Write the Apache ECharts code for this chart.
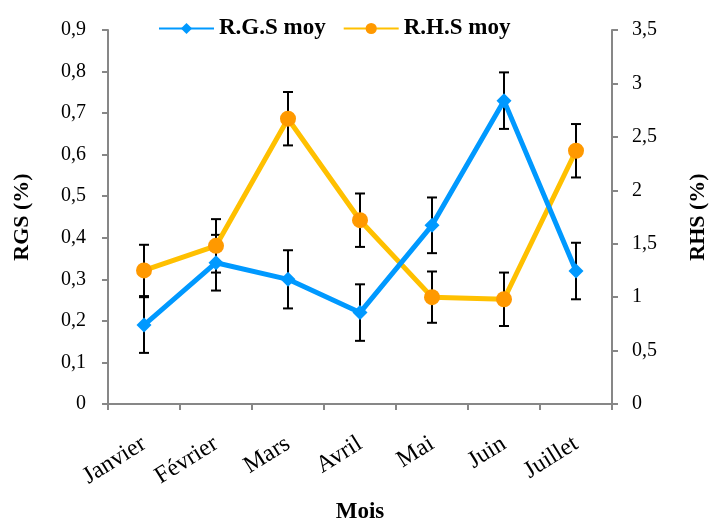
<!DOCTYPE html>
<html>
<head>
<meta charset="utf-8">
<script src="https://cdn.jsdelivr.net/npm/echarts@6/dist/echarts.min.js"></script>
<style>
  html, body { margin: 0; padding: 0; background: #fff; }
  #chart { width: 710px; height: 521px; }
</style>
</head>
<body>
<div id="chart"></div>
<script>
// data
const months = ['Janvier', 'Février', 'Mars', 'Avril', 'Mai', 'Juin', 'Juillet']
const rgsMoy = [0.19, 0.34, 0.30, 0.22, 0.43, 0.73, 0.32]
const rgsErr = [0.067, 0.067, 0.07, 0.068, 0.067, 0.068, 0.068]
const rhsMoy = [1.25, 1.48, 2.67, 1.72, 1.00, 0.98, 2.37]
const rhsErr = [0.24, 0.25, 0.25, 0.25, 0.24, 0.25, 0.25]
const leftTicks = [0, 0.9, 0.1]
const rightTicks = [0, 3.5, 0.5]

const font = 'Liberation Serif'
const axisGrey = '#878787'

function fmt(v) {
  return String(Math.round(v * 10) / 10).replace('.', ',')
}

function errorBars(values, errs, axisIndex) {
  return {
    type: 'custom',
    yAxisIndex: axisIndex,
    z: 3,
    silent: true,
    encode: { x: 0, y: [1, 2] },
    data: values.map((v, i) => [i, v - errs[i], v + errs[i]]),
    renderItem(params, api) {
      const lo = api.coord([api.value(0), api.value(1)])
      const hi = api.coord([api.value(0), api.value(2)])
      const half = 5
      const style = { stroke: '#000', lineWidth: 2 }
      return {
        type: 'group',
        children: [
          { type: 'line', shape: { x1: lo[0], y1: lo[1], x2: hi[0], y2: hi[1] }, style },
          { type: 'line', shape: { x1: lo[0] - half, y1: lo[1], x2: lo[0] + half, y2: lo[1] }, style },
          { type: 'line', shape: { x1: hi[0] - half, y1: hi[1], x2: hi[0] + half, y2: hi[1] }, style }
        ]
      }
    }
  }
}

const chart = echarts.init(document.getElementById('chart'))

chart.setOption({
  animation: false,
  textStyle: { fontFamily: font },
  grid: { left: 108, right: 98, top: 30, bottom: 117, outerBoundsMode: 'none' },
  legend: {
    data: ['R.G.S moy', 'R.H.S moy'],
    top: 12,
    left: 153,
    itemWidth: 55,
    itemHeight: 14,
    itemGap: 17,
    textStyle: { fontFamily: font, fontSize: 23, fontWeight: 'bold', color: '#000', padding: [0, 0, 0, 0] }
  },
  xAxis: {
    type: 'category',
    data: months,
    boundaryGap: true,
    name: 'Mois',
    nameLocation: 'middle',
    nameGap: 97,
    nameTextStyle: { fontFamily: font, fontSize: 23, fontWeight: 'bold', color: '#000' },
    axisLine: { lineStyle: { color: axisGrey, width: 2 } },
    axisTick: { show: true, length: 6, lineStyle: { color: axisGrey, width: 2 } },
    axisLabel: { rotate: 32, margin: 38, fontFamily: font, fontSize: 24, color: '#000' }
  },
  yAxis: [
    {
      type: 'value',
      min: leftTicks[0],
      max: leftTicks[1],
      interval: leftTicks[2],
      name: 'RGS (%)',
      nameLocation: 'middle',
      nameRotate: 90,
      nameGap: 75,
      nameTextStyle: { fontFamily: font, fontSize: 22, fontWeight: 'bold', color: '#000' },
      axisLine: { show: true, lineStyle: { color: axisGrey, width: 2 } },
      axisTick: { show: true, length: 6, lineStyle: { color: axisGrey, width: 2 } },
      splitLine: { show: false },
      axisLabel: { margin: 22, fontFamily: font, fontSize: 20, color: '#000', formatter: fmt }
    },
    {
      type: 'value',
      position: 'right',
      min: rightTicks[0],
      max: rightTicks[1],
      interval: rightTicks[2],
      name: 'RHS (%)',
      nameLocation: 'middle',
      nameRotate: 90,
      nameGap: 75,
      nameTextStyle: { fontFamily: font, fontSize: 22, fontWeight: 'bold', color: '#000' },
      axisLine: { show: true, lineStyle: { color: axisGrey, width: 2 } },
      axisTick: { show: true, length: 6, lineStyle: { color: axisGrey, width: 2 } },
      splitLine: { show: false },
      axisLabel: { margin: 20, fontFamily: font, fontSize: 20, color: '#000', formatter: fmt }
    }
  ],
  series: [
    errorBars(rhsMoy, rhsErr, 1),
    errorBars(rgsMoy, rgsErr, 0),
    {
      name: 'R.H.S moy',
      type: 'line',
      yAxisIndex: 1,
      z: 4,
      data: rhsMoy,
      symbol: 'circle',
      symbolSize: 16,
      lineStyle: { color: '#FFC000', width: 5 },
      itemStyle: { color: '#FF9900' }
    },
    {
      name: 'R.G.S moy',
      type: 'line',
      yAxisIndex: 0,
      z: 5,
      data: rgsMoy,
      symbol: 'diamond',
      symbolSize: 15,
      lineStyle: { color: '#0099FF', width: 5 },
      itemStyle: { color: '#0099FF' }
    }
  ]
})
</script>
</body>
</html>
